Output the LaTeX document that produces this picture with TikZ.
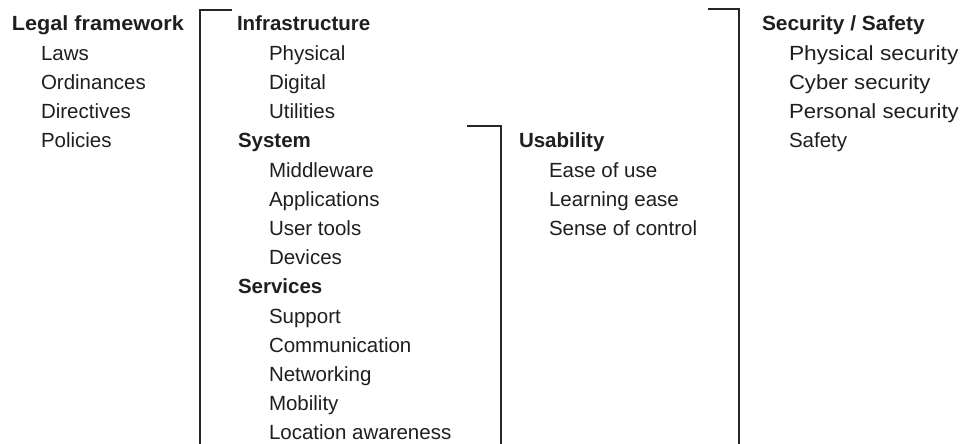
\documentclass[tikz,border=0pt]{standalone}
\usepackage{fontspec}
\usepackage{graphicx}
\setmainfont{Liberation Sans}
\begin{document}
\begin{tikzpicture}[x=1pt,y=-1pt,
  txt/.style={anchor=base west,inner sep=0pt,outer sep=0pt,text=black!88,font=\fontsize{20.5}{24}\selectfont},
  head/.style={txt,font=\fontsize{20.5}{24}\selectfont\bfseries},
  bracket/.style={draw=black!85,line width=1.6pt}]
\useasboundingbox[fill=white] (0,0) rectangle (963,444);
\def\dy{29.2}
% Legal framework
\node[head] (legal) at (12,31) {\scalebox{1.055}[1]{Legal framework}};
\node[txt] (laws) at (41,{31+1*\dy}) {Laws};
\node[txt] (ord) at (41,{31+2*\dy}) {Ordinances};
\node[txt] (dir) at (41,{31+3*\dy}) {Directives};
\node[txt] (pol) at (41,{31+4*\dy}) {Policies};
% Infrastructure column
\node[head] (infra) at (237,31) {Infrastructure};
\node[txt] (phys) at (269,{31+1*\dy}) {Physical};
\node[txt] (dig) at (269,{31+2*\dy}) {Digital};
\node[txt] (util) at (269,{31+3*\dy}) {Utilities};
\node[head] (sys) at (238,{31+4*\dy}) {System};
\node[txt] (mid) at (269,{31+5*\dy}) {Middleware};
\node[txt] (app) at (269,{31+6*\dy}) {Applications};
\node[txt] (ut) at (269,{31+7*\dy}) {User tools};
\node[txt] (dev) at (269,{31+8*\dy}) {Devices};
\node[head] (serv) at (238,{31+9*\dy}) {Services};
\node[txt] (sup) at (269,{31+10*\dy}) {Support};
\node[txt] (comm) at (269,{31+11*\dy}) {Communication};
\node[txt] (net) at (269,{31+12*\dy}) {Networking};
\node[txt] (mob) at (269,{31+13*\dy}) {Mobility};
\node[txt] (loc) at (269,{31+14*\dy}) {Location awareness};
% Usability
\node[head] (usab) at (519,{31+4*\dy}) {Usability};
\node[txt] (ease) at (549,{31+5*\dy}) {Ease of use};
\node[txt] (learn) at (549,{31+6*\dy}) {Learning ease};
\node[txt] (sense) at (549,{31+7*\dy}) {Sense of control};
% Security / Safety
\node[head] (sec) at (762,31) {\scalebox{1.02}[1]{Security / Safety}};
\node[txt] (psec) at (789,{31+1*\dy}) {\scalebox{1.11}[1]{Physical security}};
\node[txt] (csec) at (789,{31+2*\dy}) {\scalebox{1.08}[1]{Cyber security}};
\node[txt] (persec) at (789,{31+3*\dy}) {\scalebox{1.08}[1]{Personal security}};
\node[txt] (safe) at (789,{31+4*\dy}) {Safety};
% brackets
\coordinate (b1a) at (232,10);
\coordinate (b1b) at (200,10);
\coordinate (b1c) at (200,446);
\coordinate (b2a) at (467,126);
\coordinate (b2b) at (501,126);
\coordinate (b2c) at (501,446);
\coordinate (b3a) at (708,9);
\coordinate (b3b) at (739,9);
\coordinate (b3c) at (739,446);
\draw[bracket] (b1a) -- (b1b) -- (b1c);
\draw[bracket] (b2a) -- (b2b) -- (b2c);
\draw[bracket] (b3a) -- (b3b) -- (b3c);
\end{tikzpicture}
\end{document}
